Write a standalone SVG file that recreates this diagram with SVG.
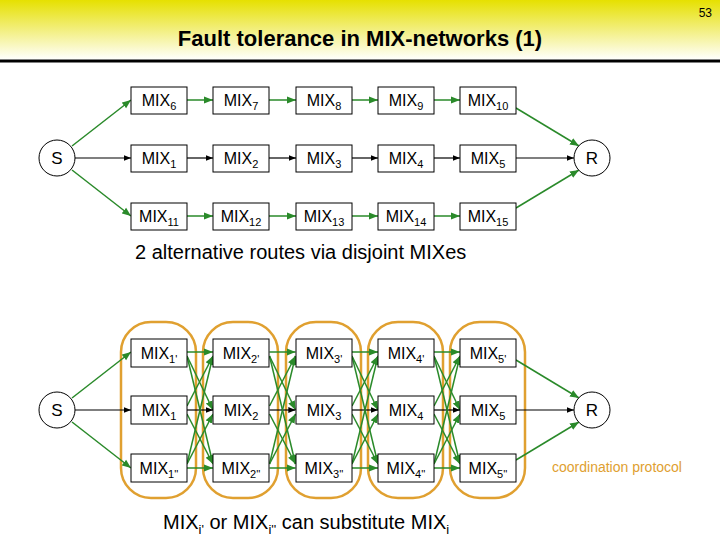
<svg xmlns="http://www.w3.org/2000/svg" width="720" height="540" viewBox="0 0 720 540">
<defs>
<linearGradient id="hd" x1="0" y1="0" x2="0" y2="1"><stop offset="0" stop-color="#e6e000"/><stop offset="1" stop-color="#ffffff"/></linearGradient>
<marker id="ag" viewBox="0 0 10 10" refX="10" refY="5" markerWidth="6" markerHeight="6" orient="auto"><path d="M0,1 L10,5 L0,9 z" fill="#2a8a2a"/></marker>
<marker id="ab" viewBox="0 0 10 10" refX="10" refY="5" markerWidth="6" markerHeight="6" orient="auto"><path d="M0,1 L10,5 L0,9 z" fill="#000"/></marker>
<style>
text{font-family:"Liberation Sans",Arial,sans-serif}
.box{fill:#fff;stroke:#000;stroke-width:1}
.m{font-size:16px;text-anchor:middle}
.s{font-size:11px}
.g{stroke:#2a8a2a;stroke-width:1.5;fill:none;marker-end:url(#ag)}
.b{stroke:#000;stroke-width:1.2;fill:none;marker-end:url(#ab)}
.o{fill:none;stroke:#e0a030;stroke-width:2.5}
.c{fill:#fff;stroke:#000}
</style>
</defs>
<rect x="0" y="0" width="720" height="60" fill="url(#hd)"/>
<line x1="0" y1="61" x2="720" y2="61" stroke="#000" stroke-width="3"/>
<text x="712" y="17" font-size="12" text-anchor="end">53</text>
<text x="360" y="46" font-size="22" font-weight="bold" text-anchor="middle">Fault tolerance in MIX-networks (1)</text>

<g id="orange">
<rect class="o" x="121" y="322" width="75" height="176" rx="30"/>
<rect class="o" x="203" y="322" width="75" height="176" rx="30"/>
<rect class="o" x="286" y="322" width="75" height="176" rx="30"/>
<rect class="o" x="368" y="322" width="75" height="176" rx="30"/>
<rect class="o" x="450" y="322" width="75" height="176" rx="30"/>
</g>

<g id="connectors">
<!-- top section -->
<path class="g" d="M72,146 L131,100"/>
<path class="b" d="M75,158 L131,158"/>
<path class="g" d="M72,170 L131,216"/>
<path class="g" d="M187,100 L213,100"/><path class="g" d="M269,100 L296,100"/><path class="g" d="M352,100 L378,100"/><path class="g" d="M434,100 L460,100"/>
<path class="b" d="M187,158 L213,158"/><path class="b" d="M269,158 L296,158"/><path class="b" d="M352,158 L378,158"/><path class="b" d="M434,158 L460,158"/>
<path class="g" d="M187,216 L213,216"/><path class="g" d="M269,216 L296,216"/><path class="g" d="M352,216 L378,216"/><path class="g" d="M434,216 L460,216"/>
<path class="g" d="M516,108 L579,146"/>
<path class="b" d="M516,158 L574,158"/>
<path class="g" d="M516,208 L579,170"/>
<!-- bottom section -->
<path class="g" d="M72,398 L131,352"/>
<path class="b" d="M75,410 L131,410"/>
<path class="g" d="M72,422 L131,468"/>
<path class="g" d="M516,360 L579,398"/>
<path class="b" d="M516,410 L574,410"/>
<path class="g" d="M516,460 L579,422"/>
<g id="mesh">
<path class="g" d="M187,352 L213,352"/><path class="g" d="M187,356 L213,410"/><path class="g" d="M187,356 L213,464"/>
<path class="g" d="M187,406 L213,356"/><path class="b" d="M187,410 L213,410"/><path class="g" d="M187,414 L213,464"/>
<path class="g" d="M187,464 L213,356"/><path class="g" d="M187,464 L213,414"/><path class="g" d="M187,468 L213,468"/>
</g>
<use href="#mesh" x="82.5"/>
<use href="#mesh" x="165"/>
<use href="#mesh" x="247"/>
</g>

<g id="S1"><circle class="c" cx="57" cy="158" r="18"/><text x="57" y="164" font-size="17" text-anchor="middle">S</text></g>
<g id="R1"><circle class="c" cx="592" cy="158" r="18"/><text x="592" y="164" font-size="17" text-anchor="middle">R</text></g>
<g id="S2"><circle class="c" cx="57" cy="410" r="18"/><text x="57" y="416" font-size="17" text-anchor="middle">S</text></g>
<g id="R2"><circle class="c" cx="592" cy="410" r="18"/><text x="592" y="416" font-size="17" text-anchor="middle">R</text></g>

<g id="mix6"><rect class="box" x="131" y="87" width="56" height="27"/><text class="m" x="159" y="106">MIX<tspan class="s" dy="4">6</tspan></text></g>
<g id="mix7"><rect class="box" x="213" y="87" width="56" height="27"/><text class="m" x="241" y="106">MIX<tspan class="s" dy="4">7</tspan></text></g>
<g id="mix8"><rect class="box" x="296" y="87" width="56" height="27"/><text class="m" x="324" y="106">MIX<tspan class="s" dy="4">8</tspan></text></g>
<g id="mix9"><rect class="box" x="378" y="87" width="56" height="27"/><text class="m" x="406" y="106">MIX<tspan class="s" dy="4">9</tspan></text></g>
<g id="mix10"><rect class="box" x="460" y="87" width="56" height="27"/><text class="m" x="488" y="106">MIX<tspan class="s" dy="4">10</tspan></text></g>
<g id="mix1a"><rect class="box" x="131" y="145" width="56" height="27"/><text class="m" x="159" y="164">MIX<tspan class="s" dy="4">1</tspan></text></g>
<g id="mix2a"><rect class="box" x="213" y="145" width="56" height="27"/><text class="m" x="241" y="164">MIX<tspan class="s" dy="4">2</tspan></text></g>
<g id="mix3a"><rect class="box" x="296" y="145" width="56" height="27"/><text class="m" x="324" y="164">MIX<tspan class="s" dy="4">3</tspan></text></g>
<g id="mix4a"><rect class="box" x="378" y="145" width="56" height="27"/><text class="m" x="406" y="164">MIX<tspan class="s" dy="4">4</tspan></text></g>
<g id="mix5a"><rect class="box" x="460" y="145" width="56" height="27"/><text class="m" x="488" y="164">MIX<tspan class="s" dy="4">5</tspan></text></g>
<g id="mix11"><rect class="box" x="131" y="203" width="56" height="27"/><text class="m" x="159" y="222">MIX<tspan class="s" dy="4">11</tspan></text></g>
<g id="mix12"><rect class="box" x="213" y="203" width="56" height="27"/><text class="m" x="241" y="222">MIX<tspan class="s" dy="4">12</tspan></text></g>
<g id="mix13"><rect class="box" x="296" y="203" width="56" height="27"/><text class="m" x="324" y="222">MIX<tspan class="s" dy="4">13</tspan></text></g>
<g id="mix14"><rect class="box" x="378" y="203" width="56" height="27"/><text class="m" x="406" y="222">MIX<tspan class="s" dy="4">14</tspan></text></g>
<g id="mix15"><rect class="box" x="460" y="203" width="56" height="27"/><text class="m" x="488" y="222">MIX<tspan class="s" dy="4">15</tspan></text></g>

<text x="135" y="259" font-size="20">2 alternative routes via disjoint MIXes</text>

<g id="b1t"><rect class="box" x="131" y="339" width="56" height="28"/><text class="m" x="159" y="359">MIX<tspan class="s" dy="4">1'</tspan></text></g>
<g id="b2t"><rect class="box" x="213" y="339" width="56" height="28"/><text class="m" x="241" y="359">MIX<tspan class="s" dy="4">2'</tspan></text></g>
<g id="b3t"><rect class="box" x="296" y="339" width="56" height="28"/><text class="m" x="324" y="359">MIX<tspan class="s" dy="4">3'</tspan></text></g>
<g id="b4t"><rect class="box" x="378" y="339" width="56" height="28"/><text class="m" x="406" y="359">MIX<tspan class="s" dy="4">4'</tspan></text></g>
<g id="b5t"><rect class="box" x="460" y="339" width="56" height="28"/><text class="m" x="488" y="359">MIX<tspan class="s" dy="4">5'</tspan></text></g>
<g id="b1m"><rect class="box" x="131" y="396" width="56" height="28"/><text class="m" x="159" y="416">MIX<tspan class="s" dy="4">1</tspan></text></g>
<g id="b2m"><rect class="box" x="213" y="396" width="56" height="28"/><text class="m" x="241" y="416">MIX<tspan class="s" dy="4">2</tspan></text></g>
<g id="b3m"><rect class="box" x="296" y="396" width="56" height="28"/><text class="m" x="324" y="416">MIX<tspan class="s" dy="4">3</tspan></text></g>
<g id="b4m"><rect class="box" x="378" y="396" width="56" height="28"/><text class="m" x="406" y="416">MIX<tspan class="s" dy="4">4</tspan></text></g>
<g id="b5m"><rect class="box" x="460" y="396" width="56" height="28"/><text class="m" x="488" y="416">MIX<tspan class="s" dy="4">5</tspan></text></g>
<g id="b1b"><rect class="box" x="131" y="454" width="56" height="28"/><text class="m" x="159" y="474">MIX<tspan class="s" dy="4">1''</tspan></text></g>
<g id="b2b"><rect class="box" x="213" y="454" width="56" height="28"/><text class="m" x="241" y="474">MIX<tspan class="s" dy="4">2''</tspan></text></g>
<g id="b3b"><rect class="box" x="296" y="454" width="56" height="28"/><text class="m" x="324" y="474">MIX<tspan class="s" dy="4">3''</tspan></text></g>
<g id="b4b"><rect class="box" x="378" y="454" width="56" height="28"/><text class="m" x="406" y="474">MIX<tspan class="s" dy="4">4''</tspan></text></g>
<g id="b5b"><rect class="box" x="460" y="454" width="56" height="28"/><text class="m" x="488" y="474">MIX<tspan class="s" dy="4">5''</tspan></text></g>

<text x="552" y="472" font-size="14" fill="#e0a030">coordination protocol</text>
<text x="163" y="529" font-size="20">MIX<tspan font-size="13" dy="5">i'</tspan><tspan dy="-5"> or MIX</tspan><tspan font-size="13" dy="5">i''</tspan><tspan dy="-5"> can substitute MIX</tspan><tspan font-size="13" dy="5">i</tspan></text>
</svg>
